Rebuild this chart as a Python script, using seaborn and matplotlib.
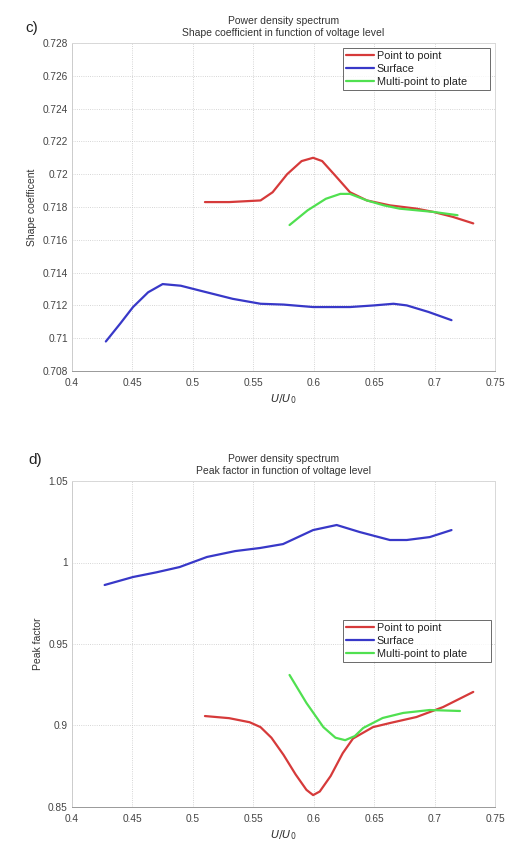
import matplotlib
matplotlib.use("Agg")
import matplotlib.pyplot as plt
import seaborn as sns
import pandas as pd
from matplotlib.ticker import FuncFormatter

sns.set_theme(style="white")
plt.rcParams['font.family'] = ['Liberation Sans', 'DejaVu Sans']

# ---- data: shape coefficient (c) ----
c_red_x = [0.510, 0.530, 0.556, 0.566, 0.578, 0.590, 0.5995, 0.607, 0.618, 0.630, 0.644, 0.663, 0.685, 0.699, 0.715, 0.732]
c_red_y = [0.7183, 0.7183, 0.7184, 0.7189, 0.7200, 0.7208, 0.7210, 0.7208, 0.7199, 0.7189, 0.7184, 0.7181, 0.7179, 0.7177, 0.7174, 0.7170]
c_blue_x = [0.428, 0.440, 0.4505, 0.463, 0.475, 0.490, 0.506, 0.533, 0.556, 0.575, 0.5995, 0.630, 0.650, 0.666, 0.677, 0.695, 0.714]
c_blue_y = [0.7098, 0.7109, 0.7119, 0.7128, 0.7133, 0.7132, 0.7129, 0.7124, 0.7121, 0.71205, 0.7119, 0.7119, 0.7120, 0.7121, 0.7120, 0.7116, 0.7111]
c_green_x = [0.580, 0.595, 0.610, 0.622, 0.630, 0.644, 0.658, 0.671, 0.685, 0.699, 0.719]
c_green_y = [0.7169, 0.7178, 0.7185, 0.7188, 0.7188, 0.7184, 0.7181, 0.7179, 0.7178, 0.7177, 0.7175]

# ---- data: peak factor (d) ----
d_red_x = [0.510, 0.530, 0.547, 0.556, 0.565, 0.575, 0.585, 0.594, 0.5995, 0.605, 0.614, 0.624, 0.6325, 0.649, 0.663, 0.685, 0.707, 0.732]
d_red_y = [0.9058, 0.9045, 0.9020, 0.8990, 0.8925, 0.8820, 0.8700, 0.8605, 0.8573, 0.8595, 0.8690, 0.8830, 0.8920, 0.8990, 0.9015, 0.9052, 0.9113, 0.9206]
d_blue_x = [0.427, 0.4505, 0.470, 0.489, 0.5117, 0.535, 0.5556, 0.5746, 0.5995, 0.619, 0.638, 0.663, 0.677, 0.696, 0.714]
d_blue_y = [0.9862, 0.9911, 0.9940, 0.9972, 1.0034, 1.0070, 1.0089, 1.0113, 1.0199, 1.0230, 1.0187, 1.0138, 1.0138, 1.0156, 1.0199]
d_green_x = [0.580, 0.594, 0.608, 0.618, 0.626, 0.634, 0.641, 0.657, 0.674, 0.696, 0.721]
d_green_y = [0.9310, 0.9138, 0.8990, 0.8925, 0.8910, 0.8935, 0.8985, 0.9046, 0.9077, 0.9095, 0.9089]

series_names = ["Point to point", "Surface", "Multi-point to plate"]
colors = ["#d63a3a", "#3838c8", "#50e050"]

x_ticks = [0.4, 0.45, 0.5, 0.55, 0.6, 0.65, 0.7, 0.75]
c_yticks = [0.708, 0.71, 0.712, 0.714, 0.716, 0.718, 0.72, 0.722, 0.724, 0.726, 0.728]
d_yticks = [0.85, 0.9, 0.95, 1.0, 1.05]


def fmt(v, pos=None):
    s = "%.4f" % v
    s = s.rstrip("0").rstrip(".")
    return s


def make_df(xs, ys):
    frames = []
    for name, x, y in zip(series_names, xs, ys):
        frames.append(pd.DataFrame({"x": x, "y": y, "series": name}))
    return pd.concat(frames, ignore_index=True)


W, H = 512, 843
fig = plt.figure(figsize=(W / 100, H / 100), dpi=100)

ax_c = fig.add_axes([72 / W, 1 - 371 / H, 423 / W, 328 / H])
ax_d = fig.add_axes([72 / W, 1 - 807 / H, 423 / W, 326 / H])

panels = [
    (ax_c, make_df([c_red_x, c_blue_x, c_green_x], [c_red_y, c_blue_y, c_green_y]),
     c_yticks, "Shape coefficent",
     "Power density spectrum\nShape coefficient in function of voltage level",
     "c)", 25, 28, (343, 48, 147, 52)),
    (ax_d, make_df([d_red_x, d_blue_x, d_green_x], [d_red_y, d_blue_y, d_green_y]),
     d_yticks, "Peak factor",
     "Power density spectrum\nPeak factor in function of voltage level",
     "d)", 28, 460, (343, 620, 148, 50)),
]

for ax, df, yt, ylab, title, tag, tag_x, tag_y, legbox in panels:
    sns.lineplot(data=df, x="x", y="y", hue="series", hue_order=series_names,
                 palette=colors, sort=False, estimator=None, linewidth=1.6, ax=ax)
    ax.set_xlim(0.4, 0.75)
    ax.set_ylim(yt[0], yt[-1])
    ax.set_xticks(x_ticks)
    ax.set_yticks(yt)
    ax.xaxis.set_major_formatter(FuncFormatter(fmt))
    ax.yaxis.set_major_formatter(FuncFormatter(fmt))
    ax.tick_params(axis="both", direction="in", length=3, width=0.6,
                   colors="#555555", labelsize=7.3, labelcolor="#444444", pad=3)
    ax.tick_params(axis="x", pad=5)
    ax.tick_params(top=False, right=False)
    ax.grid(True, linestyle=":", linewidth=0.6, color="#c8c8c8")
    for sp in ax.spines.values():
        sp.set_color("#d8d8d8")
        sp.set_linewidth(0.7)
    ax.spines["bottom"].set_color("#999999")
    ax.spines["left"].set_color("#cccccc")
    ax.set_xlabel("$U/U_0$", fontsize=8, color="#333333", labelpad=3)
    ax.set_ylabel(ylab, fontsize=7.5, color="#333333", labelpad=4)
    ax.set_title(title, fontsize=7.5, color="#333333", pad=5, linespacing=1.3)
    fig.text(tag_x / W, 1 - tag_y / H, tag, fontsize=11,
             color="#222222", va="center", ha="left")
    lx, ly, lw, lh = legbox
    leg = ax.legend(loc="upper left",
                    bbox_to_anchor=(lx / W, 1 - (ly + lh) / H, lw / W, lh / H),
                    bbox_transform=fig.transFigure, mode="expand",
                    fontsize=7.8, frameon=True, fancybox=False, handlelength=2.6,
                    handletextpad=0.2, borderpad=0.3, labelspacing=0.25,
                    borderaxespad=0)
    leg.get_frame().set_edgecolor("#444444")
    leg.get_frame().set_linewidth(0.7)
    for t in leg.get_texts():
        t.set_color("#222222")

fig.savefig("out.png", dpi=100)
